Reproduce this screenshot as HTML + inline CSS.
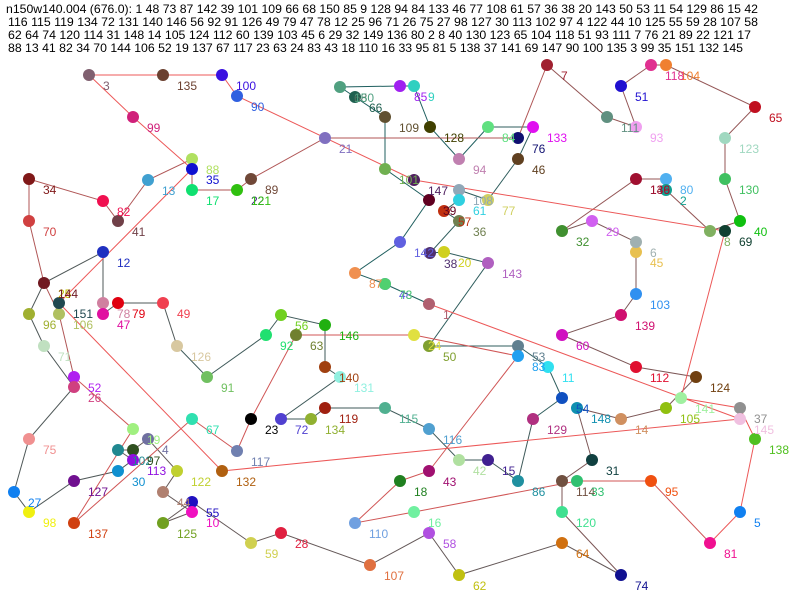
<!DOCTYPE html>
<html><head><meta charset="utf-8"><style>
html,body{margin:0;padding:0;background:#fff;}
svg{display:block;}
text{font-family:"Liberation Sans",Arial,sans-serif;font-size:12px;}
</style></head><body>
<svg width="800" height="600" viewBox="0 0 800 600" xmlns="http://www.w3.org/2000/svg">
<rect width="800" height="600" fill="#fff"/>
<g fill="#000">
<text x="6" y="13" textLength="752" lengthAdjust="spacingAndGlyphs">n150w140.004 (676.0): 1 48 73 87 142 39 101 109 66 68 150 85 9 128 94 84 133 46 77 108 61 57 36 38 20 143 50 53 11 54 129 86 15 42</text>
<text x="8" y="26" textLength="750" lengthAdjust="spacingAndGlyphs">116 115 119 134 72 131 140 146 56 92 91 126 49 79 47 78 12 25 96 71 26 75 27 98 127 30 113 102 97 4 122 44 10 125 55 59 28 107 58</text>
<text x="8" y="39" textLength="743" lengthAdjust="spacingAndGlyphs">62 64 74 120 114 31 148 14 105 124 112 60 139 103 45 6 29 32 149 136 80 2 8 40 130 123 65 104 118 51 93 111 7 76 21 89 22 121 17</text>
<text x="8" y="52" textLength="735" lengthAdjust="spacingAndGlyphs">88 13 41 82 34 70 144 106 52 19 137 67 117 23 63 24 83 43 18 110 16 33 95 81 5 138 37 141 69 147 90 100 135 3 99 35 151 132 145</text>
</g>
<g fill="none" stroke-width="1">
<polyline stroke="#1f5f5f" points="429,304 385,284 385,284 355,273 400,242 429,200 385,169 385,117 355,97 340,87 340,87 400,86 414,86 430,127 459,159 488,127"/>
<polyline stroke="#2f5d5d" points="488,127 533,127 518,159 488,200 459,190 459,200 444,211 459,221 430,253 444,252 488,263 429,346 518,346 548,367 562,398 533,419"/>
<polyline stroke="#3f5a5a" points="533,419 518,481 488,460 459,460 429,429 385,408 325,408 311,419 281,419 340,377 325,367 325,325 281,315 266,335 207,377 177,346"/>
<polyline stroke="#4f5858" points="177,346 163,303 118,303 103,314 103,303 103,252 44,283 29,314 44,346 74,387 29,439 14,492 29,512 74,481 118,471 133,460"/>
<polyline stroke="#645858" points="133,460 118,450 133,450 148,439 177,471 163,492 192,512 163,523 192,502 251,543 281,533 370,565 429,533 459,575 562,543 621,575"/>
<polyline stroke="#7c5656" points="621,575 562,512 562,481 592,460 577,408 621,419 666,408 696,377 636,367 562,335 621,315 636,294 636,252 636,242 592,221 562,231"/>
<polyline stroke="#945656" points="562,231 636,179 636,179 666,179 666,190 710,231 740,221 725,179 725,138 755,107 666,65 651,65 621,86 636,127 607,117 547,65"/>
<polyline stroke="#b05656" points="547,65 518,138 325,138 251,179 237,190 237,190 192,190 192,159 148,180 118,221 103,201 29,179 29,221 44,283 59,314 74,377"/>
<polyline stroke="#d05656" points="74,377 133,429 74,523 192,419 237,451 251,419 296,335 414,335 518,356 429,471 400,481 355,523 414,512 577,481 651,481 710,543"/>
<polyline stroke="#ec5858" points="710,543 740,512 755,439 740,408 681,398 725,231 414,180 237,96 222,75 163,75 89,75 133,117 192,169 59,303 222,471 740,419 429,304"/>
</g>
<g>
<circle cx="429" cy="304" r="6" fill="#b06070"/><circle cx="385" cy="284" r="6" fill="#6060e0"/><circle cx="385" cy="284" r="6" fill="#50d070"/>
<circle cx="355" cy="273" r="6" fill="#f09050"/><circle cx="400" cy="242" r="6" fill="#6060e0"/><circle cx="429" cy="200" r="6" fill="#600020"/>
<circle cx="385" cy="169" r="6" fill="#70b050"/><circle cx="385" cy="117" r="6" fill="#605030"/><circle cx="355" cy="97" r="6" fill="#206050"/>
<circle cx="340" cy="87" r="6" fill="#50a080"/><circle cx="400" cy="86" r="6" fill="#a020f0"/><circle cx="414" cy="86" r="6" fill="#30d0c0"/>
<circle cx="430" cy="127" r="6" fill="#404000"/><circle cx="459" cy="159" r="6" fill="#c080b0"/><circle cx="488" cy="127" r="6" fill="#60e080"/>
<circle cx="533" cy="127" r="6" fill="#e010f0"/><circle cx="518" cy="159" r="6" fill="#604020"/><circle cx="488" cy="200" r="6" fill="#d0d060"/>
<circle cx="459" cy="190" r="6" fill="#90a8b8"/><circle cx="459" cy="200" r="6" fill="#30d0e0"/><circle cx="444" cy="211" r="6" fill="#c03010"/>
<circle cx="459" cy="221" r="6" fill="#708050"/><circle cx="430" cy="253" r="6" fill="#503070"/><circle cx="444" cy="252" r="6" fill="#d0d020"/>
<circle cx="488" cy="263" r="6" fill="#b060c0"/><circle cx="429" cy="346" r="6" fill="#80a030"/><circle cx="518" cy="346" r="6" fill="#608090"/>
<circle cx="518" cy="356" r="6" fill="#20a0f0"/><circle cx="548" cy="367" r="6" fill="#30e0f0"/><circle cx="562" cy="398" r="6" fill="#1050c0"/>
<circle cx="533" cy="419" r="6" fill="#b03080"/><circle cx="518" cy="481" r="6" fill="#2090a0"/><circle cx="488" cy="460" r="6" fill="#402090"/>
<circle cx="459" cy="460" r="6" fill="#b0e0a0"/><circle cx="429" cy="429" r="6" fill="#50a0d0"/><circle cx="385" cy="408" r="6" fill="#50b090"/>
<circle cx="325" cy="408" r="6" fill="#a02010"/><circle cx="311" cy="419" r="6" fill="#90b030"/><circle cx="281" cy="419" r="6" fill="#5040d0"/>
<circle cx="340" cy="377" r="6" fill="#90f0e0"/><circle cx="325" cy="367" r="6" fill="#a04010"/><circle cx="325" cy="325" r="6" fill="#20b010"/>
<circle cx="281" cy="315" r="6" fill="#70d020"/><circle cx="266" cy="335" r="6" fill="#20e070"/><circle cx="296" cy="335" r="6" fill="#708030"/>
<circle cx="207" cy="377" r="6" fill="#70c060"/><circle cx="177" cy="346" r="6" fill="#d8c8a0"/><circle cx="163" cy="303" r="6" fill="#f04050"/>
<circle cx="118" cy="303" r="6" fill="#e00010"/><circle cx="103" cy="303" r="6" fill="#d080a0"/><circle cx="103" cy="314" r="6" fill="#e010a0"/>
<circle cx="103" cy="252" r="6" fill="#2030c0"/><circle cx="44" cy="283" r="6" fill="#701820"/><circle cx="29" cy="314" r="6" fill="#a0b030"/>
<circle cx="44" cy="346" r="6" fill="#c0e0c0"/><circle cx="74" cy="377" r="6" fill="#b020f0"/><circle cx="74" cy="387" r="6" fill="#d04080"/>
<circle cx="29" cy="439" r="6" fill="#f09090"/><circle cx="14" cy="492" r="6" fill="#1080f0"/><circle cx="29" cy="512" r="6" fill="#f0f010"/>
<circle cx="74" cy="481" r="6" fill="#701090"/><circle cx="118" cy="471" r="6" fill="#1090d0"/><circle cx="118" cy="450" r="6" fill="#208890"/>
<circle cx="133" cy="450" r="6" fill="#305020"/><circle cx="133" cy="460" r="6" fill="#9010e0"/><circle cx="148" cy="439" r="6" fill="#7070a0"/>
<circle cx="177" cy="471" r="6" fill="#c0d030"/><circle cx="163" cy="492" r="6" fill="#b08070"/><circle cx="192" cy="502" r="6" fill="#2010c0"/>
<circle cx="192" cy="512" r="6" fill="#f010c0"/><circle cx="163" cy="523" r="6" fill="#70a020"/><circle cx="251" cy="543" r="6" fill="#d0d050"/>
<circle cx="281" cy="533" r="6" fill="#e02040"/><circle cx="370" cy="565" r="6" fill="#e07040"/><circle cx="429" cy="533" r="6" fill="#b050e0"/>
<circle cx="459" cy="575" r="6" fill="#c0c010"/><circle cx="562" cy="543" r="6" fill="#d07010"/><circle cx="621" cy="575" r="6" fill="#101090"/>
<circle cx="562" cy="512" r="6" fill="#40e090"/><circle cx="562" cy="481" r="6" fill="#705040"/><circle cx="577" cy="481" r="6" fill="#30c070"/>
<circle cx="592" cy="460" r="6" fill="#104040"/><circle cx="577" cy="408" r="6" fill="#1090b0"/><circle cx="621" cy="419" r="6" fill="#d09060"/>
<circle cx="666" cy="408" r="6" fill="#90c010"/><circle cx="696" cy="377" r="6" fill="#704010"/><circle cx="636" cy="367" r="6" fill="#e01030"/>
<circle cx="562" cy="335" r="6" fill="#d010c0"/><circle cx="621" cy="315" r="6" fill="#d01070"/><circle cx="636" cy="294" r="6" fill="#3090f0"/>
<circle cx="636" cy="252" r="6" fill="#e8c050"/><circle cx="636" cy="242" r="6" fill="#a0b0b0"/><circle cx="592" cy="221" r="6" fill="#d060f0"/>
<circle cx="562" cy="231" r="6" fill="#409030"/><circle cx="636" cy="179" r="6" fill="#a01030"/><circle cx="666" cy="179" r="6" fill="#50b0f0"/>
<circle cx="666" cy="190" r="6" fill="#10a090"/><circle cx="710" cy="231" r="6" fill="#80b060"/><circle cx="725" cy="231" r="6" fill="#104030"/>
<circle cx="740" cy="221" r="6" fill="#10c010"/><circle cx="725" cy="179" r="6" fill="#40c060"/><circle cx="725" cy="138" r="6" fill="#a0d8c0"/>
<circle cx="755" cy="107" r="6" fill="#c01020"/><circle cx="666" cy="65" r="6" fill="#f08030"/><circle cx="651" cy="65" r="6" fill="#e03090"/>
<circle cx="621" cy="86" r="6" fill="#2010d0"/><circle cx="636" cy="127" r="6" fill="#f0a0f0"/><circle cx="607" cy="117" r="6" fill="#609080"/>
<circle cx="547" cy="65" r="6" fill="#a02030"/><circle cx="518" cy="138" r="6" fill="#101070"/><circle cx="325" cy="138" r="6" fill="#8070c0"/>
<circle cx="251" cy="179" r="6" fill="#704838"/><circle cx="237" cy="190" r="6" fill="#30c010"/><circle cx="192" cy="190" r="6" fill="#10e070"/>
<circle cx="192" cy="159" r="6" fill="#b0e060"/><circle cx="192" cy="169" r="6" fill="#1010d0"/><circle cx="148" cy="180" r="6" fill="#40a0d0"/>
<circle cx="118" cy="221" r="6" fill="#704048"/><circle cx="103" cy="201" r="6" fill="#f01050"/><circle cx="29" cy="179" r="6" fill="#801818"/>
<circle cx="29" cy="221" r="6" fill="#d04040"/><circle cx="59" cy="314" r="6" fill="#b0c060"/><circle cx="59" cy="303" r="6" fill="#204850"/>
<circle cx="133" cy="429" r="6" fill="#a0f080"/><circle cx="74" cy="523" r="6" fill="#d04010"/><circle cx="192" cy="419" r="6" fill="#30e0b0"/>
<circle cx="237" cy="451" r="6" fill="#7080b0"/><circle cx="251" cy="419" r="6" fill="#000"/><circle cx="414" cy="335" r="6" fill="#e0e040"/>
<circle cx="429" cy="471" r="6" fill="#a01070"/><circle cx="400" cy="481" r="6" fill="#208020"/><circle cx="355" cy="523" r="6" fill="#70a0e0"/>
<circle cx="414" cy="512" r="6" fill="#70f0a0"/><circle cx="651" cy="481" r="6" fill="#f05010"/><circle cx="710" cy="543" r="6" fill="#f01090"/>
<circle cx="740" cy="512" r="6" fill="#1080f0"/><circle cx="755" cy="439" r="6" fill="#50c020"/><circle cx="740" cy="408" r="6" fill="#909090"/>
<circle cx="740" cy="419" r="6" fill="#f0c0e0"/><circle cx="681" cy="398" r="6" fill="#a0f0a0"/><circle cx="414" cy="180" r="6" fill="#502060"/>
<circle cx="237" cy="96" r="6" fill="#3060e0"/><circle cx="222" cy="75" r="6" fill="#3a10e0"/><circle cx="163" cy="75" r="6" fill="#6b4030"/>
<circle cx="89" cy="75" r="6" fill="#806070"/><circle cx="133" cy="117" r="6" fill="#d0207a"/><circle cx="222" cy="471" r="6" fill="#b06010"/>
</g>
<g>
<text x="443" y="319" fill="#b06070">1</text><text x="399" y="299" fill="#6060e0">48</text><text x="399" y="299" fill="#50d070">73</text>
<text x="369" y="288" fill="#f09050">87</text><text x="414" y="257" fill="#6060e0">142</text><text x="443" y="215" fill="#600020">39</text>
<text x="399" y="184" fill="#70b050">101</text><text x="399" y="132" fill="#605030">109</text><text x="369" y="112" fill="#206050">66</text>
<text x="354" y="102" fill="#507060">68</text><text x="354" y="102" fill="#50a080">150</text><text x="414" y="101" fill="#a020f0">85</text>
<text x="428" y="101" fill="#30d0c0">9</text><text x="444" y="142" fill="#404000">128</text><text x="473" y="174" fill="#c080b0">94</text>
<text x="502" y="142" fill="#60e080">84</text><text x="547" y="142" fill="#e010f0">133</text><text x="532" y="174" fill="#604020">46</text>
<text x="502" y="215" fill="#d0d060">77</text><text x="473" y="205" fill="#90a8b8">108</text><text x="473" y="215" fill="#30d0e0">61</text>
<text x="458" y="226" fill="#c03010">57</text><text x="473" y="236" fill="#708050">36</text><text x="444" y="268" fill="#503070">38</text>
<text x="458" y="267" fill="#d0d020">20</text><text x="502" y="278" fill="#b060c0">143</text><text x="443" y="361" fill="#80a030">50</text>
<text x="532" y="361" fill="#608090">53</text><text x="532" y="371" fill="#20a0f0">83</text><text x="562" y="382" fill="#30e0f0">11</text>
<text x="576" y="413" fill="#1050c0">54</text><text x="547" y="434" fill="#b03080">129</text><text x="532" y="496" fill="#2090a0">86</text>
<text x="502" y="475" fill="#402090">15</text><text x="473" y="475" fill="#b0e0a0">42</text><text x="443" y="444" fill="#50a0d0">116</text>
<text x="399" y="423" fill="#50b090">115</text><text x="339" y="423" fill="#a02010">119</text><text x="325" y="434" fill="#90b030">134</text>
<text x="295" y="434" fill="#5040d0">72</text><text x="354" y="392" fill="#90f0e0">131</text><text x="339" y="382" fill="#a04010">140</text>
<text x="339" y="340" fill="#20b010">146</text><text x="295" y="330" fill="#70d020">56</text><text x="280" y="350" fill="#20e070">92</text>
<text x="310" y="350" fill="#708030">63</text><text x="221" y="392" fill="#70c060">91</text><text x="191" y="361" fill="#d8c8a0">126</text>
<text x="177" y="318" fill="#f04050">49</text><text x="132" y="318" fill="#e00010">79</text><text x="117" y="318" fill="#d080a0">78</text>
<text x="117" y="329" fill="#e010a0">47</text><text x="117" y="267" fill="#2030c0">12</text><text x="58" y="298" fill="#c0c000">25</text>
<text x="58" y="298" fill="#701820">144</text><text x="43" y="329" fill="#a0b030">96</text><text x="58" y="361" fill="#c0e0c0">71</text>
<text x="88" y="392" fill="#b020f0">52</text><text x="88" y="402" fill="#d04080">26</text><text x="43" y="454" fill="#f09090">75</text>
<text x="28" y="507" fill="#1080f0">27</text><text x="43" y="527" fill="#f0f010">98</text><text x="88" y="496" fill="#701090">127</text>
<text x="132" y="486" fill="#1090d0">30</text><text x="132" y="465" fill="#208890">102</text><text x="147" y="465" fill="#305020">97</text>
<text x="147" y="475" fill="#9010e0">113</text><text x="162" y="454" fill="#7070a0">4</text><text x="191" y="486" fill="#c0d030">122</text>
<text x="177" y="507" fill="#b08070">44</text><text x="206" y="517" fill="#2010c0">55</text><text x="206" y="527" fill="#f010c0">10</text>
<text x="177" y="538" fill="#70a020">125</text><text x="265" y="558" fill="#d0d050">59</text><text x="295" y="548" fill="#e02040">28</text>
<text x="384" y="580" fill="#e07040">107</text><text x="443" y="548" fill="#b050e0">58</text><text x="473" y="590" fill="#c0c010">62</text>
<text x="576" y="558" fill="#d07010">64</text><text x="635" y="590" fill="#101090">74</text><text x="576" y="527" fill="#40e090">120</text>
<text x="576" y="496" fill="#705040">114</text><text x="591" y="496" fill="#30c070">33</text><text x="606" y="475" fill="#104040">31</text>
<text x="591" y="423" fill="#1090b0">148</text><text x="635" y="434" fill="#d09060">14</text><text x="680" y="423" fill="#90c010">105</text>
<text x="710" y="392" fill="#704010">124</text><text x="650" y="382" fill="#e01030">112</text><text x="576" y="350" fill="#d010c0">60</text>
<text x="635" y="330" fill="#d01070">139</text><text x="650" y="309" fill="#3090f0">103</text><text x="650" y="267" fill="#e8c050">45</text>
<text x="650" y="257" fill="#a0b0b0">6</text><text x="606" y="236" fill="#d060f0">29</text><text x="576" y="246" fill="#409030">32</text>
<text x="650" y="194" fill="#a03040">149</text><text x="650" y="194" fill="#a01030">136</text><text x="680" y="194" fill="#50b0f0">80</text>
<text x="680" y="205" fill="#10a090">2</text><text x="724" y="246" fill="#80b060">8</text><text x="739" y="246" fill="#104030">69</text>
<text x="754" y="236" fill="#10c010">40</text><text x="739" y="194" fill="#40c060">130</text><text x="739" y="153" fill="#a0d8c0">123</text>
<text x="769" y="122" fill="#c01020">65</text><text x="680" y="80" fill="#f08030">104</text><text x="665" y="80" fill="#e03090">118</text>
<text x="635" y="101" fill="#2010d0">51</text><text x="650" y="142" fill="#f0a0f0">93</text><text x="621" y="132" fill="#609080">111</text>
<text x="561" y="80" fill="#a02030">7</text><text x="532" y="153" fill="#101070">76</text><text x="339" y="153" fill="#8070c0">21</text>
<text x="265" y="194" fill="#704838">89</text><text x="251" y="205" fill="#402080">22</text><text x="251" y="205" fill="#30c010">121</text>
<text x="206" y="205" fill="#10e070">17</text><text x="206" y="174" fill="#b0e060">88</text><text x="206" y="184" fill="#1010d0">35</text>
<text x="162" y="195" fill="#40a0d0">13</text><text x="132" y="236" fill="#704048">41</text><text x="117" y="216" fill="#f01050">82</text>
<text x="43" y="194" fill="#801818">34</text><text x="43" y="236" fill="#d04040">70</text><text x="73" y="329" fill="#b0c060">106</text>
<text x="73" y="318" fill="#204850">151</text><text x="147" y="444" fill="#a0f080">19</text><text x="88" y="538" fill="#d04010">137</text>
<text x="206" y="434" fill="#30e0b0">67</text><text x="251" y="466" fill="#7080b0">117</text><text x="265" y="434" fill="#000">23</text>
<text x="428" y="350" fill="#e0e040">24</text><text x="443" y="486" fill="#a01070">43</text><text x="414" y="496" fill="#208020">18</text>
<text x="369" y="538" fill="#70a0e0">110</text><text x="428" y="527" fill="#70f0a0">16</text><text x="665" y="496" fill="#f05010">95</text>
<text x="724" y="558" fill="#f01090">81</text><text x="754" y="527" fill="#1080f0">5</text><text x="769" y="454" fill="#50c020">138</text>
<text x="754" y="423" fill="#909090">37</text><text x="754" y="434" fill="#f0c0e0">145</text><text x="695" y="413" fill="#a0f0a0">141</text>
<text x="428" y="195" fill="#502060">147</text><text x="251" y="111" fill="#3060e0">90</text><text x="236" y="90" fill="#3a10e0">100</text>
<text x="177" y="90" fill="#6b4030">135</text><text x="103" y="90" fill="#806070">3</text><text x="147" y="132" fill="#d0207a">99</text>
<text x="236" y="486" fill="#b06010">132</text>
</g>
</svg>
</body></html>
